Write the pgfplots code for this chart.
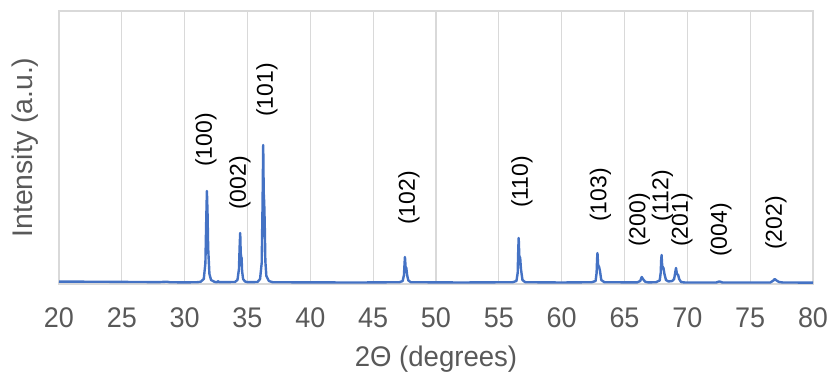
\documentclass[border=0pt]{standalone}
\usepackage{fontspec}
\setmainfont{Liberation Sans}
\usepackage{pgfplots}
\pgfplotsset{compat=1.18}
\definecolor{xlblue}{RGB}{68,114,196}
\definecolor{gridgray}{RGB}{217,217,217}
\definecolor{txtgray}{RGB}{89,89,89}
\begin{document}
\begin{tikzpicture}
\path[use as bounding box] (0,0) rectangle (833bp,378bp);
\begin{axis}[
  at={(59bp,94bp)}, anchor=south west,
  scale only axis, width=754bp, height=273bp,
  xmin=20, xmax=80, ymin=-1, ymax=272,
  xtick={20,25,...,80}, ytick=\empty,
  xmajorgrids, major grid style={gridgray, line width=1.2bp},
  axis line style={gridgray, line width=1.2bp},
  major tick length=0pt,
  /pgf/number format/assume math mode=true,
  xticklabel style={font=\fontsize{28.5}{28.5}\selectfont, text=txtgray, anchor=center, yshift=-34bp, xscale=0.95},
  xlabel={2Θ (degrees)}, ylabel={Intensity (a.u.)},
  label style={font=\fontsize{28.5}{28.5}\selectfont, text=txtgray},
  xlabel style={at={(axis description cs:0.5,-0.275)}, anchor=center, xscale=0.97},
  ylabel style={at={(axis description cs:-0.045,0.5)}, anchor=center, rotate=0},
  clip=false,
]
\addplot[xlblue, line width=2.4bp, line join=round] coordinates {
(20,1.4) (22,1.3) (24,1.2) (26,1.0) (28,0.9) (28.6,1.3) (28.8,0.8) (30,0.6) (31,0.8)
(31.27,1.2) (31.52,4) (31.65,20) (31.72,65) (31.77,92) (31.82,70) (31.87,35) (31.97,9) (32.1,3) (32.4,1) (32.6,0.8) (32.66,1.8) (32.72,0.8)
(34.0,1) (34.2,3) (34.32,14) (34.38,38) (34.42,50) (34.46,30) (34.5,26) (34.53,25) (34.57,12) (34.65,4) (34.8,1.5) (35.0,0.8)
(35.8,1) (36.0,4) (36.13,20) (36.2,80) (36.25,138) (36.29,90) (36.33,80) (36.37,60) (36.42,22) (36.5,7) (36.7,2) (37.0,0.8)
(40,0.6) (44,0.5)
(47.1,0.8) (47.35,2) (47.45,8) (47.5,20) (47.53,26) (47.58,16) (47.64,15) (47.7,8) (47.8,2.5) (48.0,0.8)
(52,0.5)
(56.1,0.8) (56.4,2) (56.5,10) (56.55,35) (56.58,45) (56.63,27) (56.7,25) (56.76,14) (56.88,3) (57.1,0.8)
(60,0.5)
(62.4,0.8) (62.7,2) (62.78,10) (62.82,24) (62.85,30) (62.9,18) (62.98,16) (63.05,12) (63.15,3) (63.4,0.8)
(66.0,0.6) (66.25,2) (66.37,6) (66.5,3.5) (66.65,1.2) (66.9,0.6)
(67.5,0.8) (67.8,2.5) (67.88,10) (67.92,23) (67.95,28) (68.0,17) (68.1,15) (68.18,9) (68.3,3) (68.5,1.5) (68.8,2)
(68.95,4) (69.03,10) (69.1,15) (69.17,9) (69.27,8) (69.35,4) (69.5,1) (69.8,0.5)
(72.3,0.5) (72.55,1.6) (72.8,0.5)
(76.6,0.5) (76.85,2.5) (76.95,4) (77.1,2.5) (77.3,1) (77.6,0.5) (80,0.4)
};
\begin{scope}[every node/.style={rotate=90, anchor=west, inner sep=0pt, font=\fontsize{23}{23}\selectfont}]
\node at (axis cs:31.70,116) {(100)};
\node at (axis cs:34.40,73) {(002)};
\node at (axis cs:36.55,166) {(101)};
\node at (axis cs:47.85,58) {(102)};
\node at (axis cs:56.84,75) {(110)};
\node at (axis cs:63.09,61) {(103)};
\node at (axis cs:66.19,36) {(200)};
\node at (axis cs:68.02,61) {(112)};
\node at (axis cs:69.57,36) {(201)};
\node at (axis cs:72.68,26) {(004)};
\node at (axis cs:77.05,33) {(202)};
\end{scope}
\end{axis}
\end{tikzpicture}
\end{document}
